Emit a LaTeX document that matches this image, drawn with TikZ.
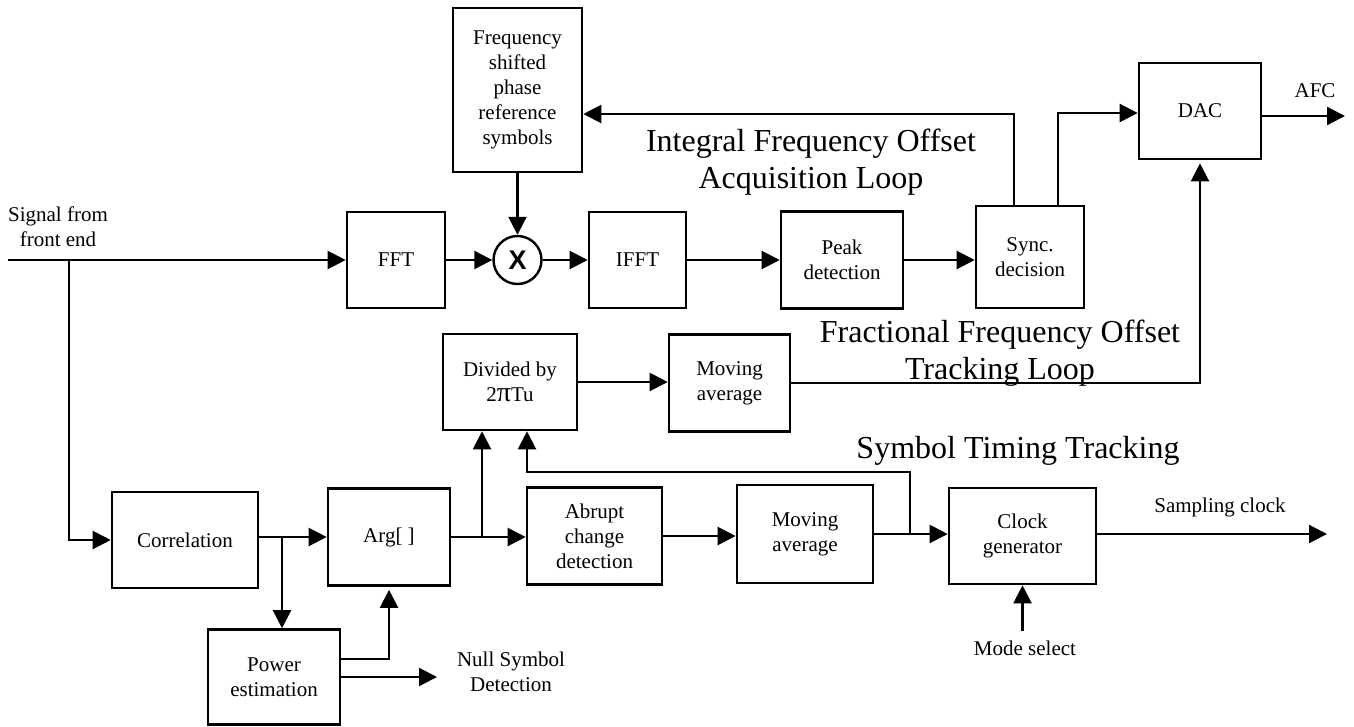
\documentclass[tikz,border=0pt]{standalone}
\usepackage{fontspec}
\setmainfont{Liberation Serif}
\newfontfamily\sansx{Liberation Sans}
\usetikzlibrary{arrows.meta,calc}
\begin{document}
\begin{tikzpicture}[x=1pt,y=-1pt,
  box/.style={draw, line width=2.6pt, inner sep=0pt, align=center, font=\fontsize{21}{25}\selectfont},
  lbl/.style={inner sep=0pt, align=center, font=\fontsize{21}{25}\selectfont},
  big/.style={inner sep=0pt, align=center, font=\fontsize{32}{37}\selectfont},
  conn/.style={line width=2.2pt},
  arr/.style={conn, -{Triangle[length=18pt,width=18pt]}},
]
\useasboundingbox (0,0) rectangle (1354,726);

% blocks
\node[box, minimum width=98pt, minimum height=96pt] (fft) at (396,260) {FFT};
\node[box, minimum width=129pt, minimum height=164pt] (freq) at (517.5,90) {Frequency\\shifted\\phase\\reference\\symbols};
\node[draw, circle, line width=2.4pt, minimum size=48pt, inner sep=0pt, font=\sansx\bfseries\fontsize{27}{27}\selectfont] (mult) at (517.5,260) {X};
\node[box, minimum width=97pt, minimum height=96pt] (ifft) at (637.5,260) {IFFT};
\node[box, minimum width=122pt, minimum height=97pt] (peak) at (842,260) {Peak\\detection};
\node[box, minimum width=108pt, minimum height=102pt] (sync) at (1030,257) {Sync.\\decision};
\node[box, minimum width=122pt, minimum height=96pt] (dac) at (1200,111) {DAC};
\node[box, minimum width=134pt, minimum height=96pt] (div) at (510,382) {Divided by\\2{\fontsize{28}{25}\selectfont π}Tu};
\node[box, minimum width=121pt, minimum height=97pt] (ma1) at (729.5,383) {Moving\\average};
\node[box, minimum width=146pt, minimum height=96pt] (corr) at (185,540) {Correlation};
\node[box, minimum width=122pt, minimum height=97pt] (arg) at (389,537) {Arg[ ]};
\node[box, minimum width=132pt, minimum height=95pt] (pow) at (274,677) {Power\\estimation};
\node[box, minimum width=135pt, minimum height=97pt] (abr) at (594.5,536) {Abrupt\\change\\detection};
\node[box, minimum width=136pt, minimum height=98pt] (ma2) at (805,534) {Moving\\average};
\node[box, minimum width=147pt, minimum height=96pt] (clk) at (1022.5,536) {Clock\\generator};

% labels
\node[lbl] (sig) at (58,227) {Signal from\\front end};
\node[big] (intl) at (811,162) {Integral Frequency Offset\\Acquisition Loop};
\node[big] (frac) at (1000,353) {Fractional Frequency Offset\\Tracking Loop};
\node[big, anchor=base] (stt) at (1018,458) {Symbol Timing Tracking};
\node[lbl] (null) at (511,672) {Null Symbol\\Detection};
\node[lbl, anchor=base] (samp) at (1220,512) {Sampling clock};
\node[lbl, anchor=base] (mode) at (1025,655) {Mode select};
\node[lbl, anchor=base] (afcl) at (1315,97) {AFC};

% coordinates
\coordinate (in) at (8,260);
\coordinate (b1) at (69,260);
\coordinate (fb) at (1014,114);
\coordinate (dk) at (1058,113);
\coordinate (afc) at (1345,116);
\coordinate (cb) at (282,537);
\coordinate (pa) at (389,659);
\coordinate (nt) at (437,677);
\coordinate (ab) at (482,537);
\coordinate (mb) at (910,534);
\coordinate (mt) at (527,472);
\coordinate (sc) at (1327,534);
\coordinate (ms) at (1022.5,631);

% connectors
\draw[arr] (in) -- (fft.west);
\draw[arr] (b1) |- (corr.west);
\draw[arr] (fft.east) -- (mult.west);
\draw[arr] (freq.south) -- (mult.north);
\draw[arr] (mult.east) -- (ifft.west);
\draw[arr] (ifft.east) -- (peak.west);
\draw[arr] (peak.east) -- (peak.east -| sync.west);
\draw[arr] (sync.north -| fb) |- (freq.east |- fb);
\draw[arr] (sync.north -| dk) |- (dac.west |- dk);
\draw[arr] (dac.east |- afc) -- (afc);
\draw[arr] (div.east) -- (div.east -| ma1.west);
\draw[arr, shorten >=3pt] (ma1.east) -| (dac.south);
\draw[arr] (arg.west -| corr.east) -- (arg.west);
\draw[arr] (cb) -- (cb |- pow.north);
\draw[arr, shorten >=3pt] (pow.east |- pa) -| (arg.south);
\draw[arr] (pow.east) -- (nt);
\draw[arr] (arg.east) -- (arg.east -| abr.west);
\draw[arr] (ab) -- (ab |- div.south);
\draw[arr] (abr.east) -- (abr.east -| ma2.west);
\draw[arr] (ma2.east) -- (ma2.east -| clk.west);
\draw[arr] (mb) |- (mt) -- (mt |- div.south);
\draw[arr] (clk.east |- sc) -- (sc);
\draw[arr] (ms) -- (clk.south);
\end{tikzpicture}
\end{document}
